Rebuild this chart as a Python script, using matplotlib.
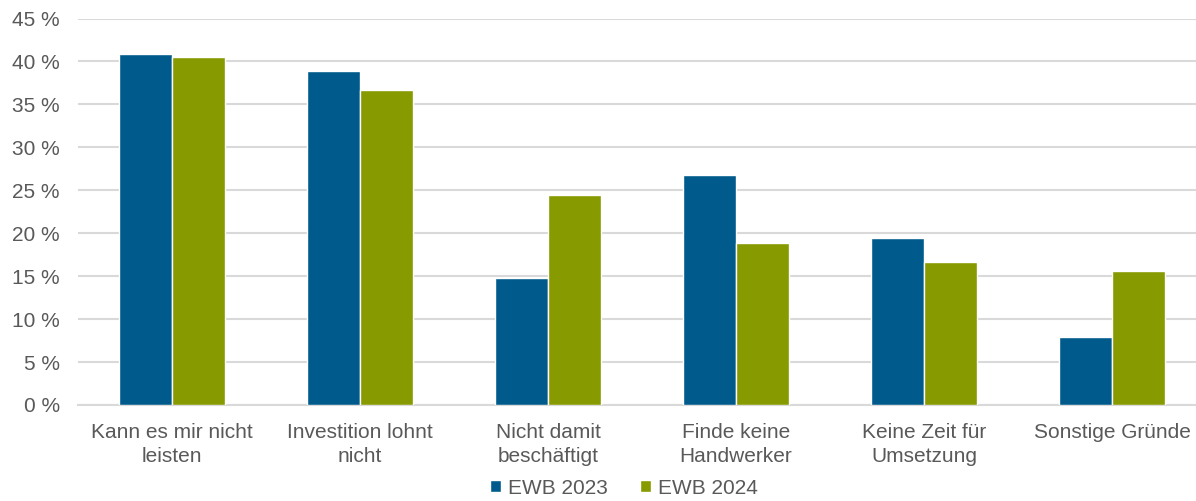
import matplotlib.pyplot as plt
import numpy as np

plt.rcParams['font.family'] = ['Liberation Sans', 'DejaVu Sans']

categories = ['Kann es mir nicht\nleisten', 'Investition lohnt\nnicht', 'Nicht damit\nbeschäftigt',
              'Finde keine\nHandwerker', 'Keine Zeit für\nUmsetzung', 'Sonstige Gründe']
ewb_2023 = [40.9, 38.9, 14.8, 26.8, 19.4, 7.9]
ewb_2024 = [40.5, 36.7, 24.5, 18.9, 16.6, 15.6]
yticks = [0, 5, 10, 15, 20, 25, 30, 35, 40, 45]

blue = '#005A8C'
green = '#879A00'
gray = '#595959'

fig = plt.figure(figsize=(11.96, 5.01), dpi=100)
ax = fig.add_axes([78 / 1196, 1 - 405 / 501, (1196 - 78) / 1196, (405 - 18.5) / 501])

x = np.arange(len(categories))
w = 0.28
ax.bar(x - w / 2, ewb_2023, w, color=blue, edgecolor='white', linewidth=1, label='EWB 2023', zorder=3)
ax.bar(x + w / 2, ewb_2024, w, color=green, edgecolor='white', linewidth=1, label='EWB 2024', zorder=3)

# category spacing ~188 px, plot area runs off the right edge a bit
ax.set_xlim(-0.5, -0.5 + 1118 / 188)
ax.set_ylim(0, 45)
ax.set_yticks(yticks)
ax.set_yticklabels([f'{v} %' for v in yticks])
ax.set_xticks(x)
ax.set_xticklabels(categories, linespacing=1.3)
ax.yaxis.grid(True, color='#D9D9D9', linewidth=1.5, zorder=0)
ax.set_axisbelow(True)

for s in ['top', 'right', 'left']:
    ax.spines[s].set_visible(False)
ax.spines['bottom'].set_color('#D9D9D9')
ax.spines['bottom'].set_linewidth(1.5)
ax.tick_params(axis='both', length=0, labelsize=15, labelcolor=gray)
ax.tick_params(axis='x', pad=13)
ax.tick_params(axis='y', pad=13)

leg = fig.legend(loc='center', bbox_to_anchor=(624 / 1196, 1 - 488 / 501), ncol=2, frameon=False,
                 fontsize=15, handlelength=0.55, handleheight=0.55, handletextpad=0.35, columnspacing=1.5)
for t in leg.get_texts():
    t.set_color(gray)

fig.savefig('out.png', dpi=100)
